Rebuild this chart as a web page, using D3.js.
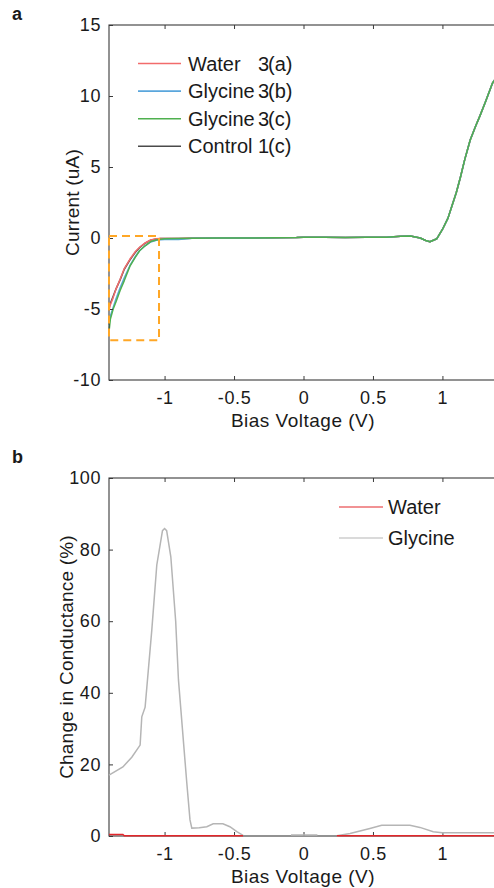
<!DOCTYPE html>
<html>
<head>
<meta charset="utf-8">
<script src="https://cdn.jsdelivr.net/npm/d3@7"></script>
<style>
  html, body { margin: 0; padding: 0; background: #fff; }
  svg text { font-family: "Liberation Sans", Arial, sans-serif; fill: #1a1a1a; }
</style>
</head>
<body>
<svg id="chart" width="494" height="888"></svg>
<script>
// ---------- Panel a: I-V curves ----------
const ivVoltage = [-1.4, -1.39, -1.37, -1.35, -1.32, -1.29, -1.25, -1.21, -1.18, -1.14, -1.10, -1.06, -1.03, -1.0, -0.9, -0.8, -0.6, -0.4, -0.2, -0.05, 0.0, 0.15, 0.3, 0.45, 0.6, 0.7, 0.77, 0.84, 0.88, 0.91, 0.96, 1.0, 1.04, 1.07, 1.1, 1.13, 1.16, 1.2, 1.24, 1.27, 1.31, 1.36, 1.4];
const tailCurrent = [0, 0, 0.02, 0.03, 0.05, 0.05, 0.03, 0.05, 0.06, 0.12, 0.14, 0.0, -0.18, -0.26, -0.05, 0.6, 1.4, 2.3, 3.2, 4.3, 5.5, 6.9, 7.9, 8.6, 9.6, 10.9, 11.5];
const water3a   = [-5.1, -4.7, -4.2, -3.6, -2.9, -2.15, -1.5, -0.95, -0.65, -0.35, -0.14, -0.06, -0.04, -0.04, -0.03, -0.02].concat(tailCurrent);
const glycine3b = [-6.1, -5.5, -4.9, -4.3, -3.5, -2.8, -1.95, -1.3, -0.9, -0.55, -0.28, -0.16, -0.12, -0.1, -0.1, -0.02].concat(tailCurrent);
const glycine3c = [-6.6, -5.7, -5.0, -4.5, -3.7, -3.0, -2.0, -1.35, -0.9, -0.55, -0.25, -0.14, -0.08, -0.05, -0.03, -0.02].concat(tailCurrent);
const control1c = [-4.8, -4.6, -4.1, -3.6, -2.95, -2.2, -1.55, -1.0, -0.68, -0.37, -0.15, -0.07, -0.04, -0.04, -0.03, -0.02].concat(tailCurrent);
const ivNames   = ["Water", "Glycine", "Glycine", "Control"];
const ivTags    = ["3", "3", "3", "1"];
const ivSubs    = ["(a)", "(b)", "(c)", "(c)"];
const ivColors  = ["#f26b6b", "#5aa6dc", "#4fb04f", "#4a4a4a"];
const ivXTicks  = [-1, -0.5, 0, 0.5, 1];
const ivYTicks  = [-10, -5, 0, 5, 10, 15];
const boxRegion = { x0: -1.4, x1: -1.04, y0: 0.14, y1: -7.2 };

// ---------- Panel b: conductance change ----------
const glyVoltage = [-1.4, -1.3, -1.236, -1.176, -1.164, -1.14, -1.092, -1.056, -1.015, -1.0, -0.985, -0.955, -0.92, -0.90, -0.84, -0.817, -0.804, -0.75, -0.696, -0.65, -0.58, -0.53, -0.48, -0.435, -0.43, -0.1, -0.09, 0.1, 0.11, 0.235, 0.24, 0.335, 0.478, 0.563, 0.766, 0.838, 0.934, 0.998, 1.36, 1.4];
const glyChange  = [17.0, 19.3, 22, 25.4, 33.3, 36, 57.5, 75.7, 85.3, 85.9, 85.3, 78, 60, 43.6, 14.8, 4.5, 2.2, 2.3, 2.6, 3.4, 3.4, 2.6, 1.2, 0.2, null, null, 0.3, 0.3, null, null, 0.05, 0.7, 2.1, 3.0, 3.0, 2.4, 1.2, 0.9, 0.9, 0.9];
const watVoltage = [-1.4, -1.3, -1.29, -0.435, -0.43, 0.235, 0.24, 1.4];
const watChange  = [0.4, 0.4, 0.05, 0.05, null, null, 0.05, 0.05];
const gNames  = ["Water", "Glycine"];
const gColors = ["#e3262b", "#b5b5b5"];
const gYTicks = [0, 20, 40, 60, 80, 100];

const svg = d3.select("#chart");
const axisColor = "#3a3a3a";
const fmt = d => String(d);

function styleTickText(s) {
  s.selectAll("text").attr("font-size", 18).attr("letter-spacing", 0.6)
    .attr("fill", "#1a1a1a").attr("font-family", "Liberation Sans, Arial");
}

function drawFrame(g, x, y, xTicks, yTicks, xLabel, yLabel, yLabelX) {
  const [x0, x1] = x.range();
  const [yb, yt] = y.range();
  g.append("g").attr("transform", `translate(0,${yb})`)
    .call(d3.axisBottom(x).tickValues(xTicks).tickSize(-4).tickPadding(13).tickFormat(fmt))
    .call(s => { s.select(".domain").remove(); s.selectAll("line").attr("stroke", axisColor); styleTickText(s); s.selectAll("text").attr("dy", "0.6em"); });
  g.append("g").attr("transform", `translate(0,${yt})`)
    .call(d3.axisTop(x).tickValues(xTicks).tickSize(-4).tickFormat(""))
    .call(s => { s.select(".domain").remove(); s.selectAll("line").attr("stroke", axisColor); });
  g.append("g").attr("transform", `translate(${x0},0)`)
    .call(d3.axisLeft(y).tickValues(yTicks).tickSize(-4).tickPadding(8).tickFormat(fmt))
    .call(s => { s.select(".domain").remove(); s.selectAll("line").attr("stroke", axisColor); styleTickText(s); });
  g.append("g").attr("transform", `translate(${x1},0)`)
    .call(d3.axisRight(y).tickValues(yTicks).tickSize(-4).tickFormat(""))
    .call(s => { s.select(".domain").remove(); s.selectAll("line").attr("stroke", axisColor); });
  g.append("rect").attr("x", x0).attr("y", yt).attr("width", x1 - x0).attr("height", yb - yt)
    .attr("fill", "none").attr("stroke", axisColor).attr("stroke-width", 1.1);
  g.append("text").attr("x", 303).attr("y", yb + 40).attr("text-anchor", "middle")
    .attr("dominant-baseline", "central").attr("font-size", 19).attr("letter-spacing", 0.5).text(xLabel);
  g.append("text").attr("transform", `translate(${yLabelX},${(yb + yt) / 2}) rotate(-90)`)
    .attr("text-anchor", "middle").attr("dominant-baseline", "central").attr("font-size", 19).attr("letter-spacing", 0.2).text(yLabel);
}

// ----- Panel a -----
const xA = d3.scaleLinear().domain([-1.4, 1.4]).range([109, 498]);
const yA = d3.scaleLinear().domain([-10, 15]).range([380, 25]);
const gA = svg.append("g");
const ivSeries = [control1c, water3a, glycine3b, glycine3c];
const ivSeriesColors = [ivColors[3], ivColors[0], ivColors[1], ivColors[2]];
const lineA = d3.line().x((d, i) => xA(ivVoltage[i])).y(d => yA(d));
ivSeries.forEach((s, k) => {
  gA.append("path").datum(s).attr("d", lineA).attr("fill", "none")
    .attr("stroke", ivSeriesColors[k]).attr("stroke-width", 1.5).attr("stroke-linejoin", "round");
});
drawFrame(gA, xA, yA, ivXTicks, ivYTicks, "Bias Voltage (V)", "Current (uA)", 72);
gA.append("rect")
  .attr("x", xA(boxRegion.x0)).attr("y", yA(boxRegion.y0))
  .attr("width", xA(boxRegion.x1) - xA(boxRegion.x0)).attr("height", yA(boxRegion.y1) - yA(boxRegion.y0))
  .attr("fill", "none").attr("stroke", "#ffa726").attr("stroke-width", 2).attr("stroke-dasharray", "8,5");
const legA = gA.append("g");
ivNames.forEach((n, i) => {
  const yy = 63.5 + i * 27.6;
  legA.append("line").attr("x1", 138).attr("x2", 181).attr("y1", yy).attr("y2", yy)
    .attr("stroke", ivColors[i]).attr("stroke-width", 1.6);
  legA.append("text").attr("x", 188).attr("y", yy).attr("dominant-baseline", "central").attr("font-size", 20).text(n);
  legA.append("text").attr("x", 258).attr("y", yy).attr("dominant-baseline", "central").attr("font-size", 20).text(ivTags[i]);
  legA.append("text").attr("x", 268).attr("y", yy).attr("dominant-baseline", "central").attr("font-size", 20).text(ivSubs[i]);
});
svg.append("text").attr("x", 12).attr("y", 20).attr("font-size", 18).attr("font-weight", "bold").text("a");

// ----- Panel b -----
const xB = d3.scaleLinear().domain([-1.4, 1.4]).range([109, 498]);
const yB = d3.scaleLinear().domain([0, 100]).range([836, 478]);
const gB = svg.append("g");
drawFrame(gB, xB, yB, ivXTicks, gYTicks, "Bias Voltage (V)", "Change in Conductance (%)", 66);
const lineGly = d3.line().defined((d, i) => glyChange[i] !== null).x((d, i) => xB(glyVoltage[i])).y(d => yB(d));
const lineWat = d3.line().defined((d, i) => watChange[i] !== null).x((d, i) => xB(watVoltage[i])).y(d => yB(d));
gB.append("path").datum(glyChange).attr("d", lineGly).attr("fill", "none").attr("stroke", gColors[1]).attr("stroke-width", 1.5);
gB.append("path").datum(watChange).attr("d", lineWat).attr("fill", "none").attr("stroke", gColors[0]).attr("stroke-width", 1.5);
const legB = gB.append("g");
gNames.forEach((n, i) => {
  const yy = 507 + i * 31;
  legB.append("line").attr("x1", 339).attr("x2", 383).attr("y1", yy).attr("y2", yy)
    .attr("stroke", gColors[i]).attr("stroke-width", 1.2);
  legB.append("text").attr("x", 388).attr("y", yy).attr("dominant-baseline", "central").attr("font-size", 20).text(n);
});
svg.append("text").attr("x", 12).attr("y", 463).attr("font-size", 18).attr("font-weight", "bold").text("b");
</script>
</body>
</html>
